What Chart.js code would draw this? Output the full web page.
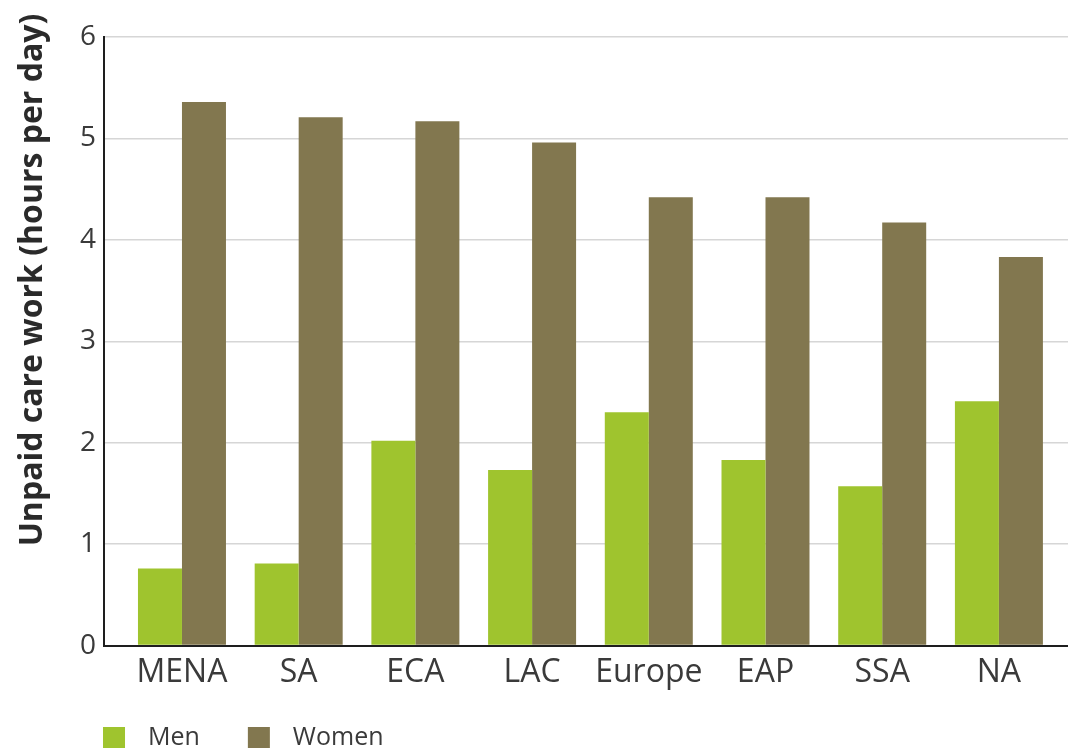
<!DOCTYPE html>
<html>
<head>
<meta charset="utf-8">
<title>Unpaid care work</title>
<script src="https://cdn.jsdelivr.net/npm/chart.js@4"></script>
<style>
  html, body { margin: 0; padding: 0; background: #fff; }
  #wrap { width: 1068px; height: 754px; }
</style>
</head>
<body>
<div id="wrap"><canvas id="careChart" width="1068" height="754"></canvas></div>
<script>
// --- Data ---
const regions = ['MENA', 'SA', 'ECA', 'LAC', 'Europe', 'EAP', 'SSA', 'NA'];
const menHours = [0.76, 0.81, 2.02, 1.73, 2.30, 1.83, 1.57, 2.41];
const womenHours = [5.36, 5.21, 5.17, 4.96, 4.42, 4.42, 4.17, 3.83];
const yTicks = [0, 1, 2, 3, 4, 5, 6];
const yTitle = 'Unpaid care work (hours per day)';

const MEN_COLOR = '#9fc42e';
const WOMEN_COLOR = '#82774f';
const TEXT_COLOR = '#3a3a3a';

// bars sit on a linear x scale so the first group can be pushed off the axis like the original
const toPoints = values => values.map((v, i) => ({ x: i, y: v }));

// --- Y title + legend, drawn by hand so they can sit where the original puts them ---
const extras = {
  id: 'extras',
  afterDraw(chart) {
    const ctx = chart.ctx;
    ctx.save();

    // y axis title, rotated
    ctx.translate(33, 280);
    ctx.rotate(-Math.PI / 2);
    ctx.font = 'bold 32px "Open Sans", sans-serif';
    ctx.fillStyle = '#2a2a2a';
    ctx.textAlign = 'center';
    ctx.textBaseline = 'middle';
    ctx.fillText(yTitle, 0, 0);
    ctx.setTransform(1, 0, 0, 1, 0, 0);

    // legend under the axis labels, starting at the y axis
    const y = 738;
    let x = chart.chartArea.left - 1;
    ctx.font = '25px "Open Sans", sans-serif';
    ctx.textBaseline = 'middle';
    ctx.textAlign = 'left';
    chart.data.datasets.forEach(ds => {
      ctx.fillStyle = ds.backgroundColor;
      ctx.fillRect(x, y - 11, 22, 21);
      x += 22 + 23;
      ctx.fillStyle = TEXT_COLOR;
      ctx.fillText(ds.label, x, y);
      x += ctx.measureText(ds.label).width + 48;
    });
    ctx.restore();
  }
};

const canvas = document.getElementById('careChart');
new Chart(canvas, {
  type: 'bar',
  data: {
    datasets: [
      { label: 'Men', data: toPoints(menHours), backgroundColor: MEN_COLOR, borderWidth: 0 },
      { label: 'Women', data: toPoints(womenHours), backgroundColor: WOMEN_COLOR, borderWidth: 0 }
    ]
  },
  options: {
    responsive: false,
    animation: false,
    devicePixelRatio: 1,
    categoryPercentage: 0.754,
    barPercentage: 1,
    layout: { padding: { top: 37, right: 0, bottom: 54, left: 72 } },
    plugins: {
      legend: { display: false },
      tooltip: { enabled: false }
    },
    scales: {
      x: {
        type: 'linear',
        offset: false,
        min: -0.668,
        max: 7.592,
        afterBuildTicks: scale => {
          scale.ticks = regions.map((r, i) => ({ value: i }));
        },
        grid: { display: false, drawTicks: false },
        border: { display: true, color: '#1e1e1e', width: 2 },
        ticks: {
          autoSkip: false,
          maxRotation: 0,
          padding: 8,
          color: TEXT_COLOR,
          font: { family: '"Open Sans", sans-serif', size: 32 },
          callback: value => regions[value]
        }
      },
      y: {
        min: 0,
        max: 6,
        afterBuildTicks: scale => {
          scale.ticks = yTicks.map(v => ({ value: v }));
        },
        grid: { color: '#d6d6d6', lineWidth: 1.5, drawTicks: false },
        border: { display: true, color: '#1e1e1e', width: 2 },
        ticks: {
          padding: 8,
          color: TEXT_COLOR,
          font: { family: '"Open Sans", sans-serif', size: 28 }
        }
      }
    }
  },
  plugins: [extras]
});
</script>
</body>
</html>
